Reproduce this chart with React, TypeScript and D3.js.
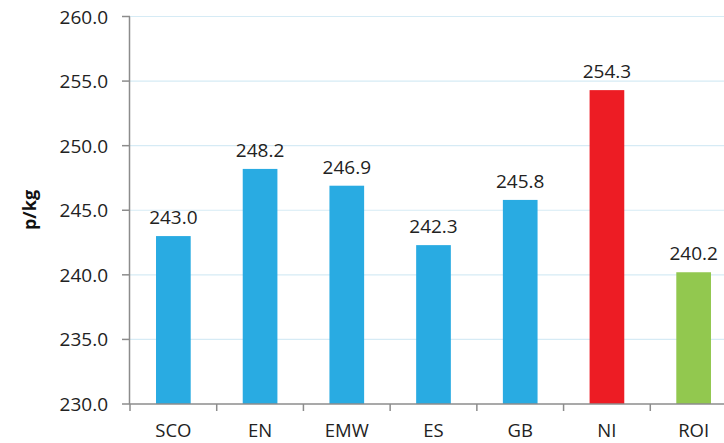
import React from 'react';
import * as d3 from 'd3';

const regions = ['SCO', 'EN', 'EMW', 'ES', 'GB', 'NI', 'ROI'];
const prices = [243.0, 248.2, 246.9, 242.3, 245.8, 254.3, 240.2];
const barColors = ['#29abe2', '#29abe2', '#29abe2', '#29abe2', '#29abe2', '#ed1c24', '#92c84f'];
const yTicks = [230, 235, 240, 245, 250, 255, 260];

const W = 724;
const H = 443;
const FONT = "'Open Sans', sans-serif";

export default function App() {
  const left = 130;
  const right = 737; // plot runs slightly past the visible edge
  const x = d3.scaleBand<string>().domain(regions).range([left, right]).paddingInner(0.6).paddingOuter(0.3);
  const y = d3.scaleLinear().domain([230, 260]).range([404, 16.5]);
  const bandW = (right - left) / regions.length;
  const edges = regions.map((_, i) => left + i * bandW);

  return (
    <div style={{ position: 'fixed', top: 0, left: 0, width: W, height: H, overflow: 'hidden', background: '#fff' }}>
      <svg width={W} height={H} style={{ display: 'block' }}>
        {/* grid */}
        {yTicks.slice(1).map((t) => (
          <line key={t} x1={left} x2={W} y1={y(t)} y2={y(t)} stroke="#d6ebf5" strokeWidth={1.2} />
        ))}
        {/* bars */}
        {regions.map((c, i) => (
          <rect key={c} x={x(c)} y={y(prices[i])} width={x.bandwidth()} height={404 - y(prices[i])} fill={barColors[i]} />
        ))}
        {/* value labels */}
        {regions.map((c, i) => (
          <text key={c} x={x(c)! + x.bandwidth() / 2} y={y(prices[i]) - 12} textAnchor="middle" fontFamily={FONT} fontSize={19} fill="#222">
            {prices[i].toFixed(1)}
          </text>
        ))}
        {/* y axis */}
        <line x1={129.5} x2={129.5} y1={16.5} y2={404} stroke="#8c8c8c" strokeWidth={1.5} />
        {yTicks.map((t) => (
          <g key={t}>
            <line x1={122} x2={130} y1={y(t)} y2={y(t)} stroke="#8c8c8c" strokeWidth={1.5} />
            <text x={108} y={y(t) + 7} textAnchor="end" fontFamily={FONT} fontSize={19} fill="#222">
              {t.toFixed(1)}
            </text>
          </g>
        ))}
        {/* x axis */}
        <line x1={129.5} x2={W} y1={404} y2={404} stroke="#8c8c8c" strokeWidth={1.5} />
        {edges.map((e, i) => (
          <line key={i} x1={e} x2={e} y1={404} y2={411} stroke="#8c8c8c" strokeWidth={1.5} />
        ))}
        {regions.map((c) => (
          <text key={c} x={x(c)! + x.bandwidth() / 2} y={437} textAnchor="middle" fontFamily={FONT} fontSize={18.5} fill="#222">
            {c}
          </text>
        ))}
        <text transform="translate(36,210) rotate(-90)" textAnchor="middle" fontFamily={FONT} fontSize={18} fontWeight="bold" fill="#111">
          p/kg
        </text>
      </svg>
    </div>
  );
}
